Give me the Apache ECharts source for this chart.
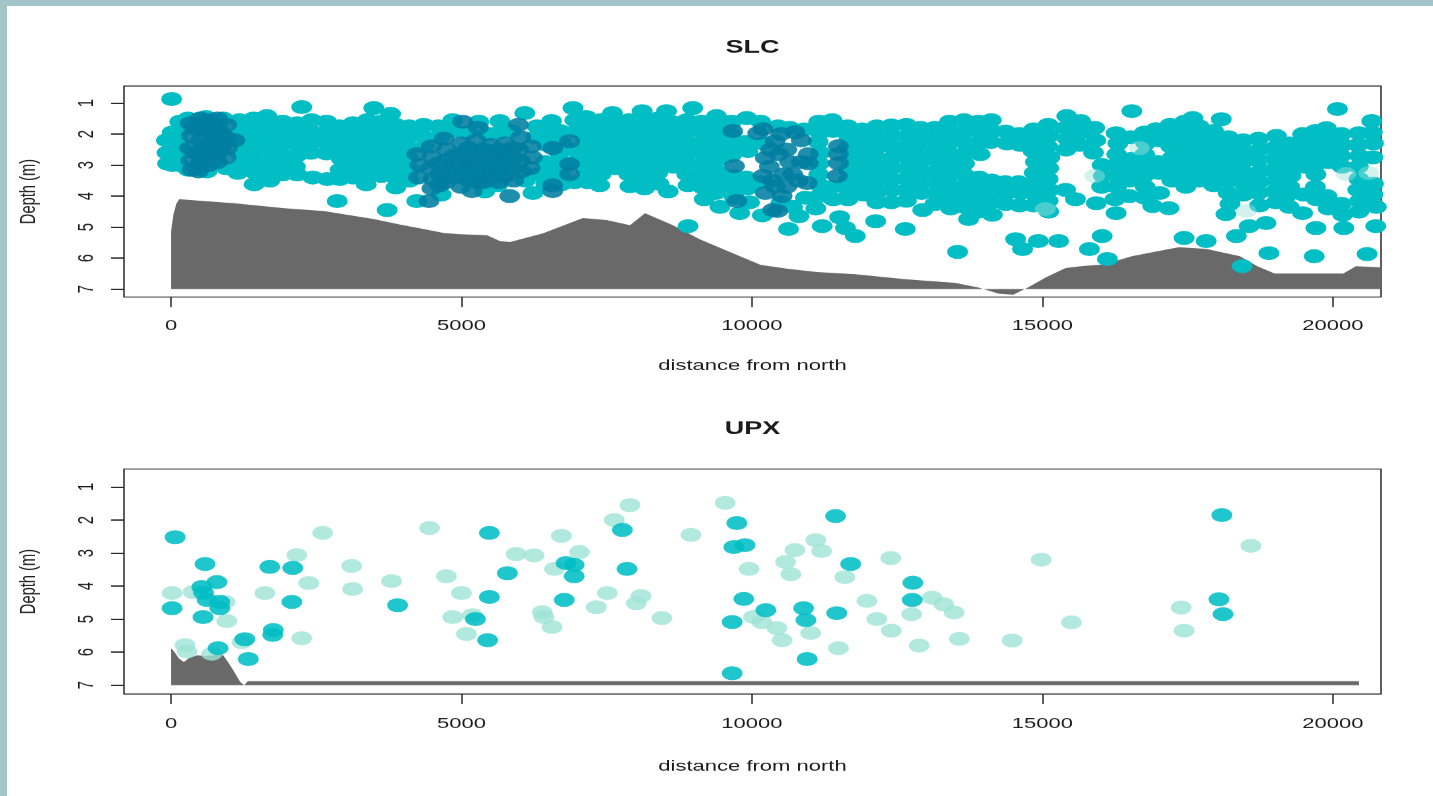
<!DOCTYPE html>
<html>
<head>
<meta charset="utf-8">
<script src="https://cdn.jsdelivr.net/npm/echarts@6/dist/echarts.min.js"></script>
<style>
html,body{margin:0;padding:0;width:1433px;height:796px;overflow:hidden;background:#a3c4c9;}
#paper{position:absolute;left:7px;top:6px;right:0;bottom:0;background:#ffffff;}
/* the plot is laid out on a taller canvas and compressed vertically */
#chart{position:absolute;left:0;top:0;width:1433px;height:1194px;transform:scaleY(0.66667);transform-origin:0 0;}
</style>
</head>
<body>
<div id="paper"></div>
<div id="chart"></div>
<script>
// ---------- axis ticks ----------
const distTicks = [0, 5000, 10000, 15000, 20000];
const depthTicks = [1, 2, 3, 4, 5, 6, 7];

// ---------- bed profile (distance, depth) ----------
const slcBed = [[0,7.0],[0,5.15],[40,4.6],[90,4.25],[140,4.1],[300,4.12],[570,4.16],[1080,4.23],[1950,4.39],[2630,4.48],[3490,4.74],[3940,4.92],[4350,5.06],[4700,5.19],[4975,5.23],[5440,5.26],[5660,5.45],[5835,5.48],[6400,5.2],[7090,4.71],[7500,4.77],[7900,4.94],[8160,4.55],[8640,4.94],[9100,5.39],[9670,5.84],[10150,6.22],[10630,6.35],[11120,6.45],[11780,6.52],[12640,6.68],[13500,6.8],[13900,6.95],[14250,7.15],[14500,7.18],[14750,6.95],[15060,6.62],[15400,6.32],[15660,6.26],[16070,6.2],[16540,5.94],[17000,5.77],[17350,5.65],[17820,5.7],[18400,5.94],[18700,6.26],[19000,6.5],[20180,6.5],[20400,6.26],[20830,6.3]];
const upxBed = [[0,7.0],[0,5.88],[40,5.95],[140,6.2],[220,6.3],[330,6.15],[450,6.1],[600,6.12],[800,6.08],[900,6.1],[1000,6.35],[1070,6.55],[1190,6.9],[1260,7.0],[1320,6.88],[20450,6.88]];

// ---------- SLC observations (distance, depth) ----------
const slcCyan = [
[-80,2.2],[-70,2.6],[-60,2.95],
[10,0.87],[20,1.95],[30,2.3],[15,2.65],[25,3.0],
[150,1.6],[140,1.95],[160,2.3],[150,2.65],[140,3.0],
[290,1.5],[300,3.15],[600,1.45],[900,1.5],[620,3.2],[950,3.1],
[1180,1.55],[1200,1.9],[1210,2.3],[1190,2.65],[1220,3.0],[1150,3.25],
[1420,1.5],[1430,1.85],[1440,2.2],[1410,2.55],[1430,2.9],[1450,3.25],[1430,3.62],
[1650,1.42],[1680,1.8],[1660,2.15],[1690,2.5],[1670,2.85],[1650,3.2],[1700,3.5],
[1920,1.6],[1900,1.95],[1930,2.3],[1910,2.65],[1940,3.0],[1920,3.3],
[2170,1.65],[2150,2.0],[2180,2.35],[2160,2.7],[2140,3.05],[2170,3.3],
[2250,1.13],
[2420,1.55],[2400,1.9],[2430,2.25],[2410,2.6],[2440,3.4],
[2680,1.6],[2660,1.95],[2690,2.3],[2670,2.62],[2690,3.45],
[2860,4.16],
[2900,1.75],[2920,2.1],[2890,2.45],[2930,2.8],[2910,3.15],[2900,3.45],
[3130,1.65],[3150,2.0],[3120,2.35],[3160,2.7],[3140,3.05],[3130,3.4],
[3380,1.55],[3360,1.9],[3390,2.25],[3370,2.6],[3400,2.95],[3380,3.3],[3360,3.62],
[3490,1.16],
[3620,1.6],[3640,1.95],[3610,2.3],[3650,2.65],[3630,3.0],[3620,3.35],
[3720,4.45],[3780,1.35],
[3870,1.7],[3890,2.05],[3860,2.4],[3900,2.75],[3880,3.1],[3890,3.45],[3870,3.72],
[4100,1.75],[4080,2.1],[4110,2.45],[4090,2.8],[4120,3.15],[4100,3.5],
[4230,4.16],[4350,1.7],[4330,2.05],[4360,2.4],
[4600,1.75],[4620,2.1],[4850,1.55],[4870,1.9],[5100,1.95],[5300,1.6],[5450,2.0],[5660,1.58],[5640,1.95],[5850,1.9],[6090,1.32],[6300,1.75],[6280,2.1],[6550,1.58],[6920,1.16],
[4650,3.95],[5400,3.85],[5620,3.65],[6100,3.5],[6230,3.9],[6320,3.3],
[6450,2.0],[6470,2.35],[6440,2.9],[6460,3.25],[6450,3.6],
[6700,1.9],[6720,2.25],[6690,2.6],[6710,2.95],[6700,3.3],[6720,3.62],
[6950,1.55],[6970,1.9],[6940,2.5],[6960,2.9],[6950,3.55],
[7150,1.45],[7170,1.8],[7140,2.15],[7180,2.5],[7160,2.85],[7150,3.2],[7170,3.55],
[7400,1.55],[7420,1.9],[7390,2.25],[7430,2.6],[7410,2.95],[7400,3.3],[7380,3.65],
[7600,1.32],[7640,1.7],[7660,2.05],[7630,2.4],[7670,2.75],[7650,3.1],
[7880,1.55],[7900,1.9],[7870,2.25],[7910,2.6],[7890,2.95],[7880,3.3],[7900,3.68],
[8110,1.26],[8130,1.65],[8150,2.0],[8120,2.35],[8160,2.7],[8140,3.05],[8130,3.4],[8150,3.75],
[8380,1.5],[8400,1.85],[8370,2.2],[8410,2.55],[8390,2.9],[8380,3.25],[8400,3.6],
[8530,1.26],[8640,1.62],[8660,2.0],[8630,2.35],[8670,2.7],[8650,3.05],[8560,3.85],
[8900,4.97],
[8880,1.55],[8900,1.9],[8870,2.25],[8910,2.6],[8890,2.95],[8880,3.3],[8900,3.65],
[8980,1.16],
[9130,1.6],[9150,1.95],[9120,2.3],[9160,2.65],[9140,3.0],[9130,3.35],[9150,3.72],[9180,4.1],
[9390,1.42],[9380,1.8],[9410,2.15],[9370,2.5],[9400,2.85],[9390,3.2],[9410,3.55],[9380,3.9],[9450,4.35],
[9650,1.6],[9640,2.0],[9670,2.35],[9640,2.7],[9680,3.35],[9660,3.7],[9700,4.05],[9790,4.55],
[9910,1.48],[9900,2.25],[9930,2.55],[9900,3.4],[9920,3.75],[9960,4.2],
[10150,1.6],[10130,3.55],[10180,4.62],[10200,2.3],[10450,1.75],[10500,4.2],[10700,4.35],
[10650,1.8],[10630,5.06],[10810,4.65],[10900,1.85],[10920,4.05],
[11150,1.6],[11170,1.95],[11140,2.25],[11180,2.6],[11160,2.95],[11150,3.3],[11170,3.65],[11150,4.0],[11210,4.97],[11100,4.4],
[11380,1.55],[11400,1.9],[11380,3.7],[11400,4.1],[11510,4.68],[11610,5.03],[11780,5.29],
[11650,1.75],[11670,2.1],[11640,2.45],[11680,2.8],[11660,3.15],[11650,3.5],[11670,3.85],[11650,4.1],
[11900,1.85],[11920,2.2],[11890,2.55],[11930,2.9],[11910,3.25],[11900,3.6],[11920,3.95],
[12130,4.81],
[12150,1.75],[12170,2.1],[12140,2.45],[12180,2.8],[12160,3.15],[12150,3.5],[12170,3.85],[12150,4.2],
[12400,1.72],[12420,2.05],[12390,2.4],[12430,2.75],[12410,3.1],[12400,3.45],[12420,3.8],[12400,4.2],
[12640,5.06],
[12660,1.7],[12680,2.05],[12650,2.4],[12690,2.75],[12670,3.1],[12660,3.45],[12680,3.8],[12660,4.15],
[12900,1.8],[12920,2.15],[12890,2.5],[12930,2.85],[12910,3.2],[12900,3.55],[12920,3.9],[12940,4.45],
[13150,1.8],[13170,2.15],[13140,2.5],[13180,2.85],[13160,3.2],[13150,3.55],[13170,3.9],[13150,4.25],
[13540,5.8],
[13400,1.6],[13420,1.95],[13390,2.3],[13430,2.65],[13410,3.0],[13400,3.35],[13420,3.7],[13400,4.05],[13420,4.4],
[13650,1.55],[13670,1.9],[13640,2.25],[13680,2.6],[13660,2.95],[13650,3.3],[13670,3.65],[13650,4.0],[13660,4.35],[13730,4.74],
[13900,1.6],[13920,1.95],[13890,2.3],[13930,2.65],[13910,3.4],[13900,3.75],[13920,4.1],[13900,4.5],
[14120,1.55],[14140,1.9],[14110,2.25],[14130,3.5],[14150,3.85],[14120,4.2],[14140,4.6],
[14370,1.92],[14390,2.3],[14360,3.55],[14380,3.9],[14370,4.25],[14540,5.39],
[14600,2.0],[14620,2.35],[14590,3.55],[14630,3.9],[14610,4.3],[14660,5.71],
[14850,1.85],[14870,2.2],[14840,2.55],[14880,2.9],[14860,3.25],[14850,3.6],[14870,3.95],[14850,4.3],[14930,5.45],
[15100,1.7],[15120,2.05],[15090,2.4],[15130,2.75],[15110,3.1],[15100,3.45],[15120,3.8],[15100,4.15],[15110,4.5],[15280,5.45],
[15420,1.42],[15400,1.8],[15430,2.15],[15410,2.5],[15660,1.58],[15650,1.95],[15640,2.35],
[15570,4.1],[15400,3.8],[15930,4.23],[16270,4.55],[16030,5.29],[15810,5.71],[16120,6.03],
[15900,1.8],[15920,2.2],[15880,2.6],[16270,1.97],[16540,1.26],[16300,2.3],[16280,2.65],[16270,3.0],[16300,3.35],[16280,3.7],[16250,4.1],
[16030,3.0],[16050,3.35],[16020,3.7],
[16520,2.1],[16540,2.8],[16520,3.15],[16500,3.5],[16500,4.0],
[16760,1.95],[16780,2.3],[16760,2.65],[16780,3.0],[16750,3.35],[16770,3.7],[16760,4.05],
[16960,1.84],[17000,2.2],[16990,2.9],[17010,3.25],[16900,4.32],[17020,3.9],
[17200,1.7],[17230,2.05],[17210,2.4],[17240,2.75],[17220,3.1],[17180,4.39],[17230,3.5],
[17440,5.35],[17820,5.45],
[17450,1.6],[17470,1.95],[17440,2.3],[17480,2.65],[17460,3.0],[17450,3.35],[17470,3.7],
[17590,1.48],
[17700,1.75],[17720,2.1],[17690,2.45],[17730,2.8],[17710,3.15],[17700,3.5],
[18080,1.52],[17950,1.9],[17970,2.25],[17940,2.6],[17980,2.95],[17960,3.3],[17950,3.65],
[18160,4.58],[18340,5.29],[18560,4.97],[18850,4.87],[18900,5.84],[18440,6.26],
[18200,2.1],[18220,2.45],[18190,2.8],[18230,3.15],[18210,3.5],[18200,3.9],[18230,4.25],
[18460,2.2],[18480,2.55],[18450,2.9],[18490,3.25],[18470,3.6],[18460,3.95],
[18720,2.15],[18740,2.5],[18710,2.85],[18750,3.2],[18730,3.55],[18720,3.9],[18740,4.3],
[19030,2.06],[18990,2.45],[19010,2.8],[18980,3.15],[19020,3.5],[19000,3.85],[19020,4.2],
[19250,2.3],[19270,2.65],[19240,3.0],[19280,3.35],[19260,3.7],[19200,4.0],[19250,4.35],
[19480,2.0],[19500,2.35],[19470,2.7],[19510,3.05],[19480,4.55],[19500,3.95],
[19710,5.03],[19680,5.94],
[19700,1.9],[19720,2.25],[19690,2.6],[19730,2.95],[19710,3.3],[19700,3.7],[19720,4.1],
[19890,1.81],[19920,2.2],[19910,2.55],[19930,2.9],[19900,4.0],[19920,4.4],
[20080,1.19],
[20150,2.0],[20170,2.35],[20140,2.7],[20160,3.05],[20190,5.03],[20150,4.25],[20170,4.6],
[20450,1.97],[20430,2.35],[20460,2.7],[20440,3.05],[20450,3.45],[20430,3.8],[20460,4.15],[20450,4.5],
[20670,1.58],[20680,1.95],[20700,2.3],[20690,2.75],[20700,3.6],[20690,3.95],[20740,4.97],[20590,5.87],[20750,4.35]
];
const slcDeep = [
[330,1.65],[350,2.05],[320,2.45],[340,2.85],[360,3.15],[400,1.8],[420,2.6],
[500,1.5],[480,1.85],[510,2.2],[490,2.6],[500,2.95],[470,3.2],[560,2.4],[570,2.8],[580,1.7],
[650,1.55],[630,1.9],[660,2.3],[640,2.7],[650,3.0],[720,2.1],[730,2.5],[720,1.7],
[800,1.5],[820,1.85],[790,2.25],[810,2.6],[800,2.9],[880,2.0],[880,2.4],
[960,1.7],[940,2.1],[970,2.45],[950,2.75],[1100,2.2],
[4230,2.65],[4280,3.0],[4260,3.4],[4440,4.16],
[4480,2.4],[4500,2.75],[4470,3.1],[4510,3.45],[4490,3.75],
[4600,2.95],[4620,3.3],[4620,3.65],
[4700,2.15],[4740,2.5],[4720,2.85],[4760,3.2],[4730,3.55],
[4870,2.7],[4880,3.05],[4860,3.4],
[5020,1.6],[5000,2.3],[4980,2.65],[5010,3.0],[5030,3.35],[4990,3.7],
[5120,2.45],[5130,2.8],[5140,3.15],[5130,3.5],
[5180,3.84],[5290,1.8],[5250,2.2],[5270,2.55],[5240,2.9],[5260,3.25],[5280,3.55],
[5380,2.5],[5390,2.85],[5400,3.2],[5370,3.55],
[5500,2.35],[5520,2.7],[5490,3.05],[5510,3.4],
[5640,2.5],[5650,2.85],[5630,3.2],[5640,3.55],
[5750,2.3],[5770,2.65],[5740,3.0],[5760,3.35],[5830,4.0],
[5880,2.45],[5890,2.8],[5870,3.15],[5900,3.5],
[5980,1.7],[6020,2.1],[5990,2.5],[6010,2.85],[6030,3.2],
[6200,2.4],[6220,2.75],[6180,3.1],
[6570,2.45],[6860,2.23],[6860,2.97],[6860,3.29],[6570,3.84],[6570,3.65],
[9670,1.9],[9700,3.03],[9740,4.16],[10100,1.97],
[10190,1.84],[10740,1.94],[10400,2.23],[10230,2.77],[10460,2.65],[10190,3.35],[10700,3.29],[10400,3.68],[10230,3.9],[10520,4.0],[10440,4.48],[10360,4.45],
[10970,2.65],[10970,2.94],[10950,3.58],[10800,3.5],[10600,2.5],[10650,2.9],[10300,3.05],[10550,3.3],[10850,2.2],
[10320,2.5],[10500,2.0],[10600,3.7],[10850,2.9],[10350,3.5],
[11490,2.39],[11490,2.65],[11490,2.94],[11470,3.35]
];
const slcPale = [[15050,4.42],[16670,2.45],[15900,3.35],[18510,4.48],[20230,3.29],[20620,3.26]];

// ---------- UPX observations (distance, depth) ----------
const upxCyan = [[70,2.52],[17,4.67],[585,3.33],[530,4.03],[560,4.2],[790,3.88],[620,4.42],[840,4.48],[840,4.67],[550,4.94],[1270,5.61],[1330,6.21],[810,5.88],[1700,3.42],[2095,3.45],[2080,4.48],[1750,5.48],[1760,5.33],[3900,4.58],[5480,2.39],[5480,4.33],[5240,5.0],[5450,5.64],[5790,3.61],[6800,3.3],[6940,3.36],[6940,3.7],[6770,4.42],[7770,2.3],[7850,3.48],[9740,2.09],[9690,2.82],[9880,2.76],[9860,4.39],[9660,5.09],[9660,6.64],[10240,4.73],[10890,4.67],[10930,5.03],[10950,6.21],[11440,1.88],[11700,3.33],[11460,4.82],[12770,3.9],[12760,4.42],[18090,1.85],[18040,4.4],[18110,4.85]];
const upxPale = [[17,4.21],[240,5.79],[275,5.98],[380,4.18],[930,4.48],[960,5.06],[1220,5.7],[700,6.05],[1615,4.21],[2250,5.58],[2165,3.06],[2610,2.39],[2370,3.91],[3110,3.39],[3125,4.09],[3795,3.85],[4450,2.24],[4740,3.7],[5000,4.21],[4850,4.94],[5190,4.88],[5085,5.45],[5940,3.03],[6250,3.07],[6720,2.48],[6600,3.48],[7030,2.97],[6390,4.79],[6420,4.94],[6560,5.24],[7320,4.64],[7510,4.21],[7630,2.0],[7900,1.55],[8090,4.3],[8010,4.52],[8450,4.97],[8950,2.45],[9540,1.48],[9950,3.48],[10030,4.94],[10170,5.09],[10430,5.27],[10520,5.64],[10580,3.27],[10740,2.91],[10670,3.64],[11010,5.42],[11100,2.61],[11200,2.94],[11600,3.73],[11490,5.88],[11980,4.45],[12150,5.0],[12390,3.15],[12400,5.35],[13100,4.35],[13300,4.55],[13480,4.8],[13570,5.6],[12880,5.8],[12750,4.85],[14480,5.65],[14980,3.2],[15500,5.1],[17390,4.65],[17440,5.35],[18590,2.78]];

// ---------- styling ----------
const FONT = '"Liberation Sans", Arial, Helvetica, sans-serif';
const INK = '#1a1a1a';
const CYAN = '#00bec4';
const DEEP = '#007ea2';
const PALE = '#9fe3d6';
const BED = '#696969';

const panels = [
  {title: 'SLC', titleY: 72, top: 129, height: 316.5, ymin: 0.45, ymax: 7.256, labelMargin: 32, nameGap: 92},
  {title: 'UPX', titleY: 643.5, top: 703.5, height: 337.5, ymin: 0.455, ymax: 7.27, labelMargin: 34, nameGap: 98}
];

const grids = panels.map(p => ({
  left: 124, right: 52, top: p.top, height: p.height,
  show: true, borderColor: '#2a2a2a', borderWidth: 1.5, backgroundColor: 'transparent',
  outerBoundsMode: 'none', containLabel: false
}));

const plain = v => String(v);

const xAxes = panels.map((p, i) => ({
  gridIndex: i, type: 'value', min: -810, max: 20830,
  name: 'distance from north', nameLocation: 'middle', nameGap: p.nameGap,
  nameTextStyle: {fontFamily: FONT, fontSize: 22, color: INK},
  axisLine: {show: false, onZero: false},
  axisTick: {show: true, inside: false, length: 15, customValues: distTicks, lineStyle: {color: '#2a2a2a', width: 1.5}},
  axisLabel: {show: true, margin: p.labelMargin, customValues: distTicks, formatter: plain, fontFamily: FONT, fontSize: 22, color: INK},
  splitLine: {show: false}
}));

const yAxes = panels.map((p, i) => ({
  gridIndex: i, type: 'value', inverse: true, min: p.ymin, max: p.ymax,
  name: 'Depth (m)', nameLocation: 'middle', nameGap: 84, nameRotate: 90,
  nameTextStyle: {fontFamily: FONT, fontSize: 22, color: INK},
  axisLine: {show: false, onZero: false},
  axisTick: {show: true, inside: false, length: 13, customValues: depthTicks, lineStyle: {color: '#2a2a2a', width: 2}},
  axisLabel: {show: true, rotate: 90, margin: 26, customValues: depthTicks, formatter: plain, fontFamily: FONT, fontSize: 22, color: INK},
  splitLine: {show: false}
}));

function bedSeries(data, idx) {
  return {
    type: 'line', xAxisIndex: idx, yAxisIndex: idx, data: data,
    symbol: 'none', silent: true, animation: false, z: 1,
    lineStyle: {width: 0, opacity: 0},
    areaStyle: {color: BED, opacity: 1, origin: 7}
  };
}
function dotSeries(data, idx, color, opacity, z) {
  return {
    type: 'scatter', xAxisIndex: idx, yAxisIndex: idx, data: data,
    symbol: 'circle', symbolSize: 21, clip: true, silent: true, animation: false, z: z,
    itemStyle: {color: color, opacity: opacity}
  };
}

const chart = echarts.init(document.getElementById('chart'), null, {renderer: 'canvas', devicePixelRatio: 1});
chart.setOption({
  animation: false,
  backgroundColor: 'transparent',
  grid: grids,
  xAxis: xAxes,
  yAxis: yAxes,
  graphic: panels.map(p => ({
    type: 'text', x: 752.5, y: p.titleY,
    style: {text: p.title, font: 'bold 27px ' + FONT, fill: INK, align: 'center', verticalAlign: 'middle'}
  })),
  series: [
    bedSeries(slcBed, 0),
    dotSeries(slcCyan, 0, CYAN, 1, 2),
    dotSeries(slcDeep, 0, DEEP, 0.88, 3),
    dotSeries(slcPale, 0, PALE, 0.45, 4),
    bedSeries(upxBed, 1),
    dotSeries(upxPale, 1, PALE, 0.8, 2),
    dotSeries(upxCyan, 1, CYAN, 0.88, 3)
  ]
});
</script>
</body>
</html>
